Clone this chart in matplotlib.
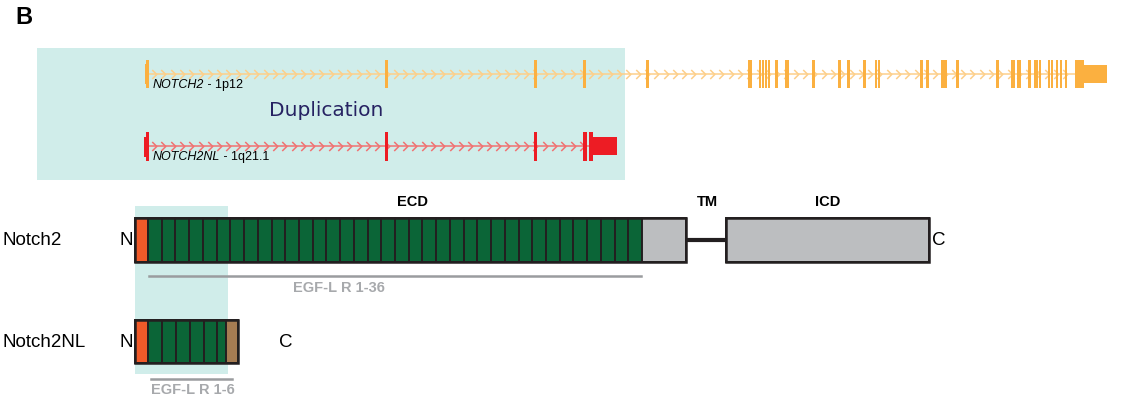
"""
Panel B: NOTCH2 / NOTCH2NL gene structure and protein domain layout.
"""

import numpy as np
import matplotlib.pyplot as plt
from matplotlib.patches import Rectangle
from matplotlib.path import Path

plt.rcParams["font.family"] = ["Liberation Sans", "DejaVu Sans"]

W, H = 1123, 402

# ---- gene models (x positions along the track, in figure pixels) ----
notch2_exon_x = [147, 386, 535, 584, 647, 750, 760, 763, 766, 769, 776, 787,
                 813, 839, 848, 864, 876, 879, 921, 927, 942, 945, 957, 997,
                 1013, 1019, 1029, 1036, 1040, 1049, 1052, 1057, 1061, 1066]
notch2_exon_w = [3, 3, 3, 3, 3, 3.5, 2.5, 2.5, 2.5, 2.5, 3, 3.5,
                 3, 3, 3, 3, 2.5, 2.5, 3, 3, 3, 3, 3, 3,
                 4.5, 4.5, 3, 4.5, 2.5, 2.5, 2.5, 2.5, 2.5, 2.5]
notch2_span = (146, 1075)
notch2_utr = (1075, 1084, 1107)   # tall coding end, 3' UTR end

notch2nl_exon_x = [147, 386, 535, 585, 591]
notch2nl_exon_w = [3, 3, 3, 3.5, 3.5]
notch2nl_span = (146, 593)
notch2nl_utr = (593, 617)

# ---- protein domains ----
n_egf_notch2 = 36
n_egf_notch2nl = 6
notch2nl_egf_w = [13.5, 14, 14, 14, 13.5, 9]

GENE_ORANGE = "#fbb040"
INTRON_ORANGE = "#fdcf8a"
GENE_RED = "#ed1c24"
INTRON_RED = "#f07272"
CYAN = "#d0edea"
GREEN = "#0b6537"
NTERM = "#f15a29"
BROWN = "#a67c52"
GREY = "#bcbec0"
EGF_GREY = "#9a9c9f"
EGF_TXT = "#a7a9ac"

chevron = Path([(-0.5, 1), (0.5, 0), (-0.5, -1)],
               [Path.MOVETO, Path.LINETO, Path.LINETO])


def draw_gene(ax, y, span, exon_x, exon_w, color, intron_color, half_h):
    ax.plot(span, [y, y], color=intron_color, lw=1.1, zorder=2)
    cx = np.arange(span[0] + 8, span[1] - 4, 9.3)
    ax.plot(cx, np.full_like(cx, y), ls="none", marker=chevron, ms=6.5,
            mfc="none", mec=intron_color, mew=1.1, zorder=2)
    for x, w in zip(exon_x, exon_w):
        ax.add_patch(Rectangle((x - w / 2, y - half_h), w, 2 * half_h,
                               facecolor=color, edgecolor="none", zorder=3))


fig = plt.figure(figsize=(W / 100, H / 100), dpi=100)
ax = fig.add_axes([0, 0, 1, 1])
ax.set_xlim(0, W)
ax.set_ylim(H, 0)
ax.axis("off")

ax.text(15, 17, "B", fontsize=17, fontweight="bold", va="center", ha="left")

# duplication highlight
ax.add_patch(Rectangle((37, 49), 588, 132, facecolor=CYAN, edgecolor="none", zorder=0))
ax.text(326, 110, "Duplication", fontsize=14.5, color="#262262",
        family="DejaVu Sans", ha="center", va="center")

# NOTCH2 track
y1 = 75
draw_gene(ax, y1, notch2_span, notch2_exon_x, notch2_exon_w,
          GENE_ORANGE, INTRON_ORANGE, 14)
ax.add_patch(Rectangle((notch2_utr[0], y1 - 14), notch2_utr[1] - notch2_utr[0], 28,
                       facecolor=GENE_ORANGE, edgecolor="none", zorder=3))
ax.add_patch(Rectangle((notch2_utr[1], y1 - 9), notch2_utr[2] - notch2_utr[1], 18,
                       facecolor=GENE_ORANGE, edgecolor="none", zorder=3))
ax.add_patch(Rectangle((144.5, y1 - 10), 2.5, 20, facecolor=GENE_ORANGE,
                       edgecolor="none", zorder=3))
t = ax.text(153, 85, "NOTCH2", fontsize=9, style="italic", va="center")
ax.annotate(" - 1p12", xy=(1, 0.5), xycoords=t, fontsize=9, va="center")

# NOTCH2NL track
y2 = 147
draw_gene(ax, y2, notch2nl_span, notch2nl_exon_x, notch2nl_exon_w,
          GENE_RED, INTRON_RED, 14.5)
ax.add_patch(Rectangle((notch2nl_utr[0], y2 - 9), notch2nl_utr[1] - notch2nl_utr[0], 18,
                       facecolor=GENE_RED, edgecolor="none", zorder=3))
ax.add_patch(Rectangle((144, y2 - 9), 2.5, 20, facecolor=GENE_RED,
                       edgecolor="none", zorder=3))
t = ax.text(153, 157, "NOTCH2NL", fontsize=9, style="italic", va="center")
ax.annotate(" - 1q21.1", xy=(1, 0.5), xycoords=t, fontsize=9, va="center")

# protein highlight
ax.add_patch(Rectangle((135, 207), 93, 168, facecolor=CYAN, edgecolor="none", zorder=0))

box_kw = dict(edgecolor="#231f20", linewidth=1.4, zorder=3)

# Notch2 protein
top, hgt = 219, 44
yc = top + hgt / 2
x0 = 135
ax.add_patch(Rectangle((x0, top), 13, hgt, facecolor=NTERM, **box_kw))
egf_w = (642 - 148) / n_egf_notch2
for i in range(n_egf_notch2):
    ax.add_patch(Rectangle((148 + i * egf_w, top), egf_w, hgt, facecolor=GREEN, **box_kw))
ax.add_patch(Rectangle((642, top), 44, hgt, facecolor=GREY, **box_kw))
ax.plot([686, 726], [241, 241], color="#231f20", lw=3, zorder=2)
ax.add_patch(Rectangle((726, top), 203, hgt, facecolor=GREY, **box_kw))
ax.add_patch(Rectangle((x0, top), 686 - x0, hgt, facecolor="none", edgecolor="#231f20",
                       linewidth=1.8, zorder=4))
ax.add_patch(Rectangle((726, top), 203, hgt, facecolor="none", edgecolor="#231f20",
                       linewidth=1.8, zorder=4))

ax.text(2, yc, "Notch2", fontsize=13.5, va="center", ha="left")
ax.text(133, yc, "N", fontsize=13.5, va="center", ha="right")
ax.text(932, yc, "C", fontsize=13.5, va="center", ha="left")
ax.text(413, 202, "ECD", fontsize=10.5, fontweight="bold", ha="center", va="center")
ax.text(707, 202, "TM", fontsize=10.5, fontweight="bold", ha="center", va="center")
ax.text(828, 202, "ICD", fontsize=10.5, fontweight="bold", ha="center", va="center")

ax.plot([149, 641], [277, 277], color=EGF_GREY, lw=1.8, zorder=2)
ax.text(339, 288, "EGF-L R 1-36", fontsize=10.5, fontweight="bold", color=EGF_TXT,
        ha="center", va="center")

# Notch2NL protein
top2 = 321
yc2 = top2 + hgt / 2
ax.add_patch(Rectangle((x0, top2), 13, hgt - 1, facecolor=NTERM, **box_kw))
xs = 148
for w in notch2nl_egf_w[:n_egf_notch2nl]:
    ax.add_patch(Rectangle((xs, top2), w, hgt - 1, facecolor=GREEN, **box_kw))
    xs += w
ax.add_patch(Rectangle((xs, top2), 238 - xs, hgt - 1, facecolor=BROWN, **box_kw))
ax.add_patch(Rectangle((x0, top2), 238 - x0, hgt - 1, facecolor="none", edgecolor="#231f20",
                       linewidth=1.8, zorder=4))

ax.text(2, yc2, "Notch2NL", fontsize=13.5, va="center", ha="left")
ax.text(133, yc2, "N", fontsize=13.5, va="center", ha="right")
ax.text(279, yc2, "C", fontsize=13.5, va="center", ha="left")

ax.plot([151, 232], [380, 380], color=EGF_GREY, lw=1.8, zorder=2)
ax.text(193, 390, "EGF-L R 1-6", fontsize=10.5, fontweight="bold", color=EGF_TXT,
        ha="center", va="center")

fig.savefig("out.png", dpi=100, facecolor="white")
